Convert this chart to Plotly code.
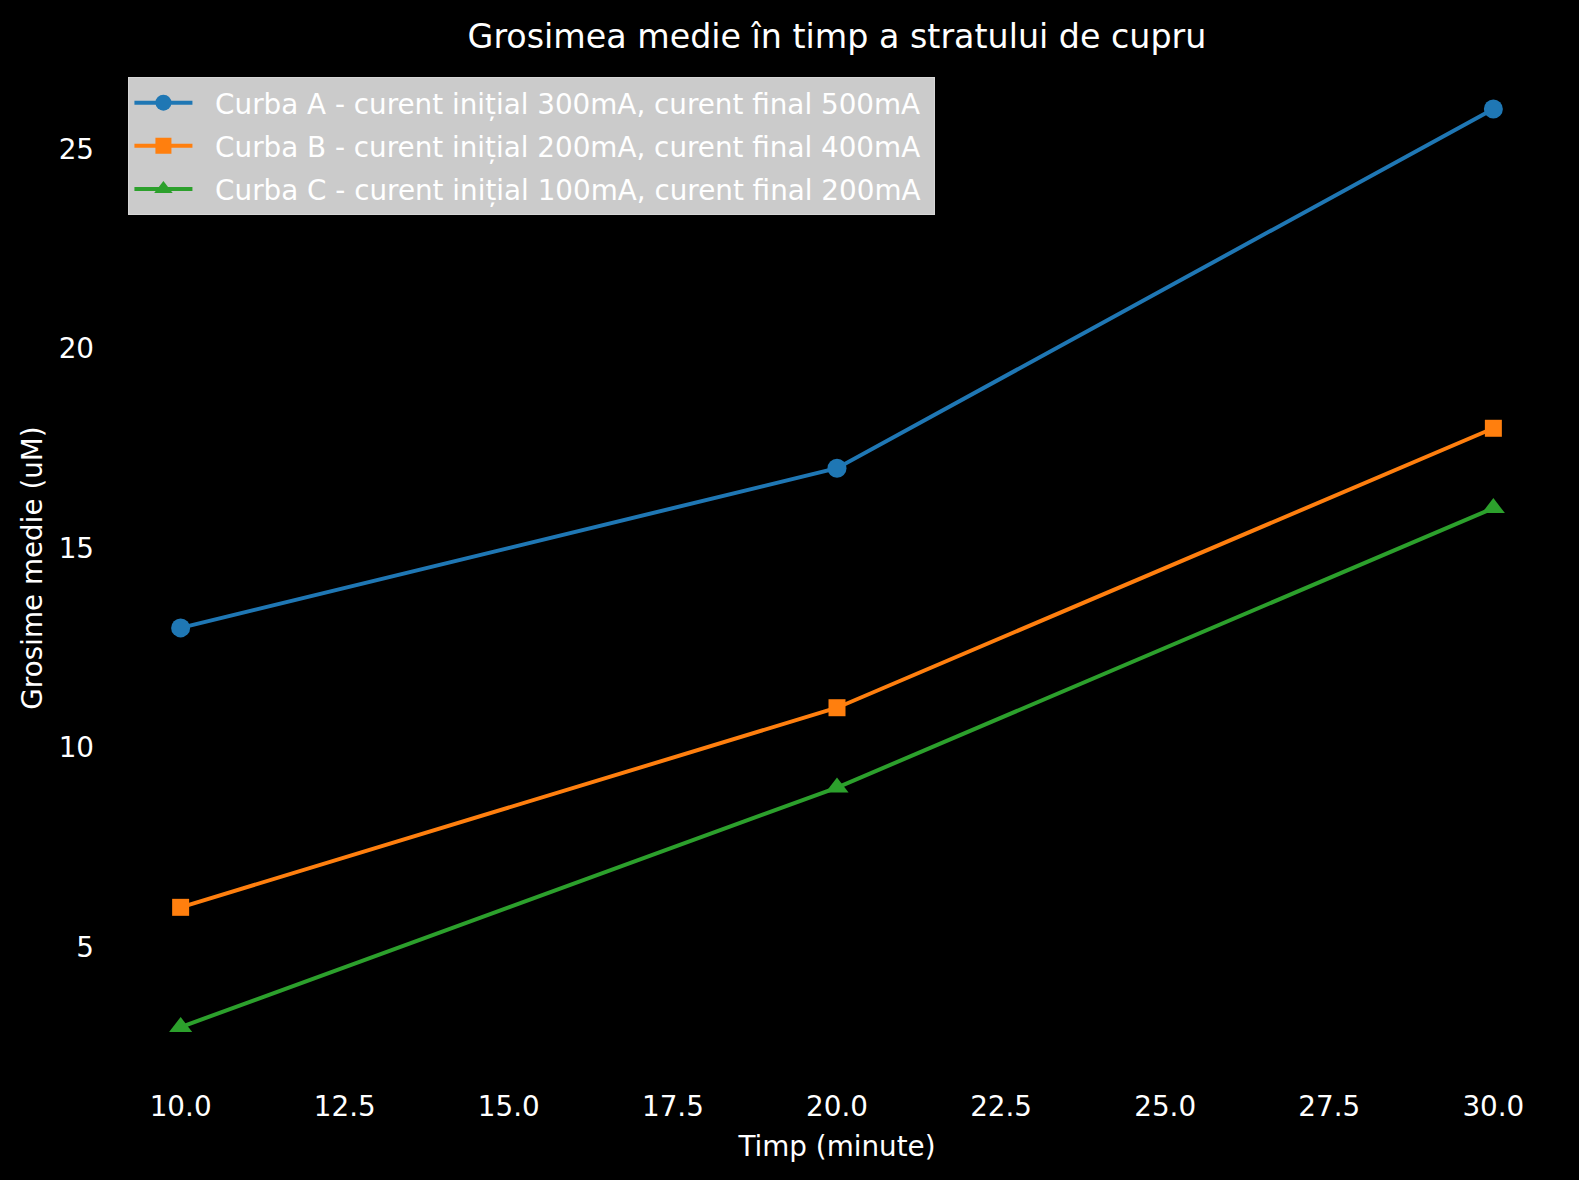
import plotly.graph_objects as go

timp = [10, 20, 30]
curba_a = [13, 17, 26]
curba_b = [6, 11, 18]
curba_c = [3, 9, 16]
nume = [
    "Curba A - curent inițial 300mA, curent final 500mA",
    "Curba B - curent inițial 200mA, curent final 400mA",
    "Curba C - curent inițial 100mA, curent final 200mA",
]
culori = ["#1f77b4", "#ff7f0e", "#2ca02c"]
simboluri = ["circle", "square", "triangle-up"]
marimi = [19, 17, 20]

FONT = "DejaVu Sans"
FS = 27.8
fig = go.Figure()
for i, (vals, name, col, sym, sz) in enumerate(zip([curba_a, curba_b, curba_c], nume, culori, simboluri, marimi)):
    fig.add_trace(go.Scatter(
        x=timp, y=vals, name="\u00a0\u00a0" + name + "\u00a0", mode="lines+markers",
        line=dict(color=col, width=4),
        marker=dict(symbol=sym, size=sz, color=col, line=dict(width=0)),
        legendgroup=f"g{i}",
    ))

fig.update_layout(
    width=1579, height=1180,
    paper_bgcolor="black", plot_bgcolor="black",
    margin=dict(l=115, r=20, t=63, b=107),
    font=dict(family=FONT, size=FS, color="white"),
    title=dict(text="Grosimea medie în timp a stratului de cupru",
               x=0.5, xref="paper", xanchor="center",
               y=1 - 36 / 1180, yref="container", yanchor="middle",
               font=dict(size=33.3, color="white", family=FONT)),
    showlegend=True,
    legend=dict(
        x=0.0093, y=0.986, xanchor="left", yanchor="top",
        bgcolor="rgb(203,203,203)", bordercolor="rgb(215,215,215)", borderwidth=1,
        font=dict(size=FS, color="white", family=FONT),
        traceorder="grouped", tracegroupgap=4, itemwidth=58,
    ),
    xaxis=dict(range=[9, 31], tick0=10, dtick=2.5, tickformat=".1f",
               showgrid=False, zeroline=False, showline=False,
               ticks="", ticklabelstandoff=14,
               title=dict(text="Timp (minute)", standoff=14, font=dict(size=FS))),
    yaxis=dict(range=[1.85, 27.15], tick0=5, dtick=5,
               showgrid=False, zeroline=False, showline=False,
               ticks="", ticklabelstandoff=20,
               title=dict(text="Grosime medie (uM)", standoff=7, font=dict(size=FS))),
)

fig.write_html(
    "out.html",
    config={"displayModeBar": False},
    post_script="document.body.style.margin='0';document.body.style.background='black';",
)
